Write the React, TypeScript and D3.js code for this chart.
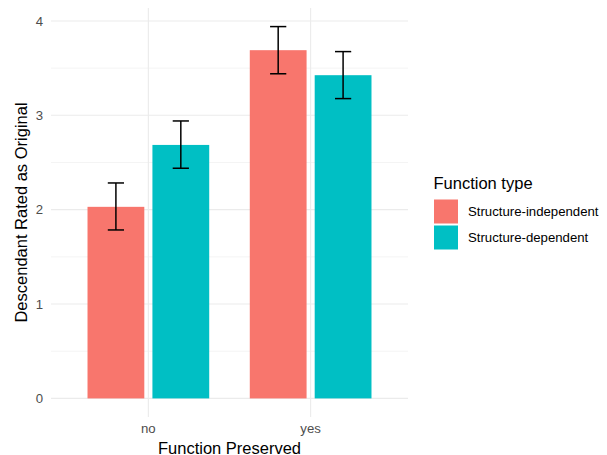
import React from 'react';
import * as d3 from 'd3';

const categories = ['no', 'yes'];
const groups = ['Structure-independent', 'Structure-dependent'];
const colors = ['#F8766D', '#00BFC4'];
// mean, lower, upper per category for each group
const indepMean = [2.03, 3.69];
const indepLow = [1.785, 3.44];
const indepHigh = [2.283, 3.94];
const depMean = [2.686, 3.425];
const depLow = [2.439, 3.177];
const depHigh = [2.94, 3.675];
const yTicks = [0, 1, 2, 3, 4];
const yMinor = [0.5, 1.5, 2.5, 3.5];

const W = 607;
const H = 455;
const panel = { left: 51, right: 408, top: 8, bottom: 417 };
const font = '"Liberation Sans", Arial, sans-serif';

const App = () => {
  // discrete scale with ggplot expansion (0.6 each side)
  const x = d3.scaleLinear().domain([0.4, 2.6]).range([panel.left, panel.right]);
  const y = d3.scaleLinear().domain([-0.197, 4.137]).range([panel.bottom, panel.top]);

  const series = [
    { mean: indepMean, low: indepLow, high: indepHigh },
    { mean: depMean, low: depLow, high: depHigh },
  ];
  const offsets = [-0.2, 0.2];
  const barW = 0.35;
  const capW = 0.1;

  return (
    <svg width={W} height={H} style={{ position: 'absolute', left: 0, top: 0, background: '#fff' }} fontFamily={font}>
      {/* grid */}
      {yMinor.map(t => (
        <line key={'m' + t} x1={panel.left} x2={panel.right} y1={y(t)} y2={y(t)} stroke="#EBEBEB" strokeWidth={0.55} />
      ))}
      {yTicks.map(t => (
        <line key={'g' + t} x1={panel.left} x2={panel.right} y1={y(t)} y2={y(t)} stroke="#EBEBEB" strokeWidth={1.1} />
      ))}
      {categories.map((c, i) => (
        <line key={'v' + c} x1={x(i + 1)} x2={x(i + 1)} y1={panel.top} y2={panel.bottom} stroke="#EBEBEB" strokeWidth={1.1} />
      ))}

      {/* bars */}
      {series.map((s, g) =>
        categories.map((c, i) => {
          const cx = i + 1 + offsets[g];
          return (
            <rect key={'b' + g + c} x={x(cx - barW / 2)} width={x(cx + barW / 2) - x(cx - barW / 2)}
              y={y(s.mean[i])} height={y(0) - y(s.mean[i])} fill={colors[g]} />
          );
        })
      )}

      {/* error bars */}
      {series.map((s, g) =>
        categories.map((c, i) => {
          const cx = i + 1 + offsets[g];
          return (
            <g key={'e' + g + c} stroke="#000" strokeWidth={1.5} fill="none">
              <line x1={x(cx)} x2={x(cx)} y1={y(s.low[i])} y2={y(s.high[i])} />
              <line x1={x(cx - capW / 2)} x2={x(cx + capW / 2)} y1={y(s.low[i])} y2={y(s.low[i])} />
              <line x1={x(cx - capW / 2)} x2={x(cx + capW / 2)} y1={y(s.high[i])} y2={y(s.high[i])} />
            </g>
          );
        })
      )}

      {/* y axis labels */}
      {yTicks.map(t => (
        <text key={'yt' + t} x={43} y={y(t)} dy="0.35em" textAnchor="end" fontSize={13.2} fill="#4D4D4D">{t}</text>
      ))}
      {/* x axis labels */}
      {categories.map((c, i) => (
        <text key={'xt' + c} x={x(i + 1)} y={433} textAnchor="middle" fontSize={13.2} fill="#4D4D4D">{c}</text>
      ))}

      <text x={(panel.left + panel.right) / 2} y={453.5} textAnchor="middle" fontSize={16.5} fill="#000">Function Preserved</text>
      <text transform={`translate(27,${(panel.top + panel.bottom) / 2}) rotate(-90)`} textAnchor="middle" fontSize={16.5} fill="#000">Descendant Rated as Original</text>

      {/* legend */}
      <text x={433.5} y={189} fontSize={16.5} fill="#000">Function type</text>
      {groups.map((gname, g) => (
        <g key={'l' + g} transform={`translate(434,${199.5 + g * 26})`}>
          <rect width={24} height={24} fill={colors[g]} />
          <text x={34} y={12} dy="0.35em" fontSize={13.2} fill="#000">{gname}</text>
        </g>
      ))}
    </svg>
  );
};

export default App;
